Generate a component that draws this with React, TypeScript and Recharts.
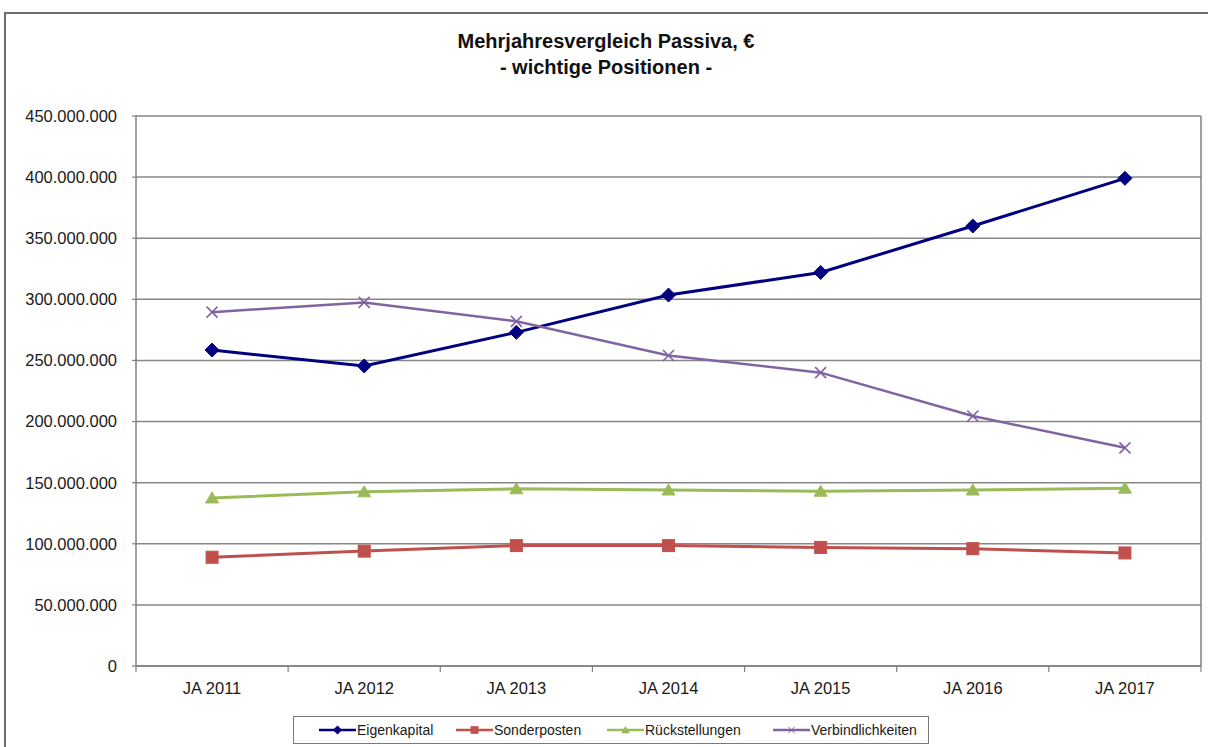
import React from 'react';
import { LineChart, Line, XAxis, YAxis, CartesianGrid } from 'recharts';

const categories = ['JA 2011', 'JA 2012', 'JA 2013', 'JA 2014', 'JA 2015', 'JA 2016', 'JA 2017'];
const eigenkapital = [258500000, 245500000, 273000000, 303500000, 322000000, 360000000, 399000000];
const sonderposten = [89000000, 94000000, 98500000, 98500000, 97000000, 96000000, 92500000];
const rueckstellungen = [137500000, 142500000, 145000000, 144000000, 143000000, 144000000, 145500000];
const verbindlichkeiten = [289500000, 297500000, 282000000, 254000000, 240000000, 204500000, 178500000];
const yTicks = [0, 50000000, 100000000, 150000000, 200000000, 250000000, 300000000, 350000000, 400000000, 450000000];

const seriesNames = ['Eigenkapital', 'Sonderposten', 'Rückstellungen', 'Verbindlichkeiten'];
const seriesColors = ['#000080', '#C0504D', '#9BBB59', '#8064A2'];

const data = categories.map((c, i) => ({
  name: c,
  Eigenkapital: eigenkapital[i],
  Sonderposten: sonderposten[i],
  Rückstellungen: rueckstellungen[i],
  Verbindlichkeiten: verbindlichkeiten[i],
}));

const W = 1208;
const H = 747;
const MARGIN = { top: 116, right: 6, bottom: 21, left: 0 };
const Y_W = 136;
const RIGHT_W = 1;
const X_H = 60;
const PLOT_W = W - MARGIN.left - MARGIN.right - Y_W - RIGHT_W;
const BAND = PLOT_W / categories.length;
const FONT = '"Liberation Sans", Arial, sans-serif';

const fmt = (v: number) => String(Math.round(v)).replace(/\B(?=(\d{3})+(?!\d))/g, '.');

const Diamond = (p: any) => {
  const { cx, cy } = p;
  if (cx == null || cy == null) return null;
  const r = 7;
  return <path d={`M${cx},${cy - r}L${cx + r},${cy}L${cx},${cy + r}L${cx - r},${cy}Z`} fill="#000080" stroke="#000080" />;
};
const Square = (p: any) => {
  const { cx, cy } = p;
  if (cx == null || cy == null) return null;
  const r = 6;
  return <rect x={cx - r} y={cy - r} width={2 * r} height={2 * r} fill="#C0504D" stroke="#C0504D" />;
};
const Triangle = (p: any) => {
  const { cx, cy } = p;
  if (cx == null || cy == null) return null;
  return <path d={`M${cx},${cy - 6}L${cx + 6.5},${cy + 5}L${cx - 6.5},${cy + 5}Z`} fill="#9BBB59" stroke="#9BBB59" />;
};
const Cross = (p: any) => {
  const { cx, cy } = p;
  if (cx == null || cy == null) return null;
  const r = 5.5;
  return (
    <g stroke="#8064A2" strokeWidth={1.6}>
      <line x1={cx - r} y1={cy - r} x2={cx + r} y2={cy + r} />
      <line x1={cx - r} y1={cy + r} x2={cx + r} y2={cy - r} />
    </g>
  );
};
const markers = [Diamond, Square, Triangle, Cross];

const XTick = (p: any) => {
  const { x, y, payload, index } = p;
  const last = index === categories.length - 1;
  return (
    <g>
      <line x1={x - BAND / 2} y1={y} x2={x - BAND / 2} y2={y + 6} stroke="#808080" strokeWidth={1.2} />
      {last && <line x1={x + BAND / 2} y1={y} x2={x + BAND / 2} y2={y + 6} stroke="#808080" strokeWidth={1.2} />}
      <text x={x} y={y + 28} textAnchor="middle" fontSize={16.5} fontFamily={FONT} fill="#1a1a1a">
        {payload.value}
      </text>
    </g>
  );
};

const legendLineX = [319, 456, 607, 773];

export default function App() {
  return (
    <div style={{ position: 'absolute', left: 0, top: 0, width: W, height: H, background: '#fff', overflow: 'hidden' }}>
      <div style={{ position: 'absolute', left: 4, top: 12, width: W, height: H, border: '2px solid #6e6e6e', boxSizing: 'border-box' }} />
      <div style={{ position: 'absolute', left: 0, top: 28, width: 1212, textAlign: 'center', fontFamily: FONT, fontWeight: 'bold', fontSize: 20, lineHeight: '26px', color: '#111' }}>
        <div>Mehrjahresvergleich Passiva, €</div>
        <div>- wichtige Positionen -</div>
      </div>
      <div style={{ position: 'absolute', left: 0, top: 0 }}>
        <LineChart width={W} height={H} data={data} margin={MARGIN}>
          <CartesianGrid vertical={false} stroke="#868686" strokeWidth={1.5} />
          <XAxis
            dataKey="name"
            height={X_H}
            padding={{ left: BAND / 2, right: BAND / 2 }}
            tickLine={false}
            tickSize={0}
            tickMargin={0}
            axisLine={{ stroke: '#808080', strokeWidth: 1.5 }}
            tick={<XTick />}
            interval={0}
          />
          <YAxis
            width={Y_W}
            domain={[0, 450000000]}
            ticks={yTicks}
            interval={0}
            tickFormatter={fmt}
            tickSize={4}
            tickMargin={15}
            tickLine={{ stroke: '#808080', strokeWidth: 1.2 }}
            axisLine={{ stroke: '#808080', strokeWidth: 1.5 }}
            tick={{ fontSize: 16.5, fontFamily: FONT, fill: '#1a1a1a' }}
          />
          <YAxis
            yAxisId="right"
            orientation="right"
            width={RIGHT_W}
            domain={[0, 1]}
            tick={false}
            tickLine={false}
            axisLine={{ stroke: '#808080', strokeWidth: 1.5 }}
          />
          {seriesNames.map((n, i) => (
            <Line
              key={n}
              type="linear"
              dataKey={n}
              stroke={seriesColors[i]}
              strokeWidth={i === 3 ? 2.5 : 3}
              dot={markers[i]}
              activeDot={false}
              isAnimationActive={false}
            />
          ))}
        </LineChart>
      </div>
      <div style={{ position: 'absolute', left: 293, top: 716, width: 636, height: 28, border: '1.5px solid #7a7a7a', boxSizing: 'border-box', background: '#fff' }} />
      {seriesNames.map((n, i) => {
        const M = markers[i];
        return (
          <div key={n} style={{ position: 'absolute', left: legendLineX[i], top: 720, height: 20, display: 'flex', alignItems: 'center', fontFamily: FONT, fontSize: 14, color: '#1a1a1a' }}>
            <svg width={37} height={20} style={{ display: 'block' }}>
              <line x1={0} y1={10} x2={37} y2={10} stroke={seriesColors[i]} strokeWidth={2.5} />
              <g transform="translate(18.5,10) scale(0.6) translate(-18.5,-10)">
                <M cx={18.5} cy={10} />
              </g>
            </svg>
            <span style={{ marginLeft: 1 }}>{n}</span>
          </div>
        );
      })}
    </div>
  );
}
